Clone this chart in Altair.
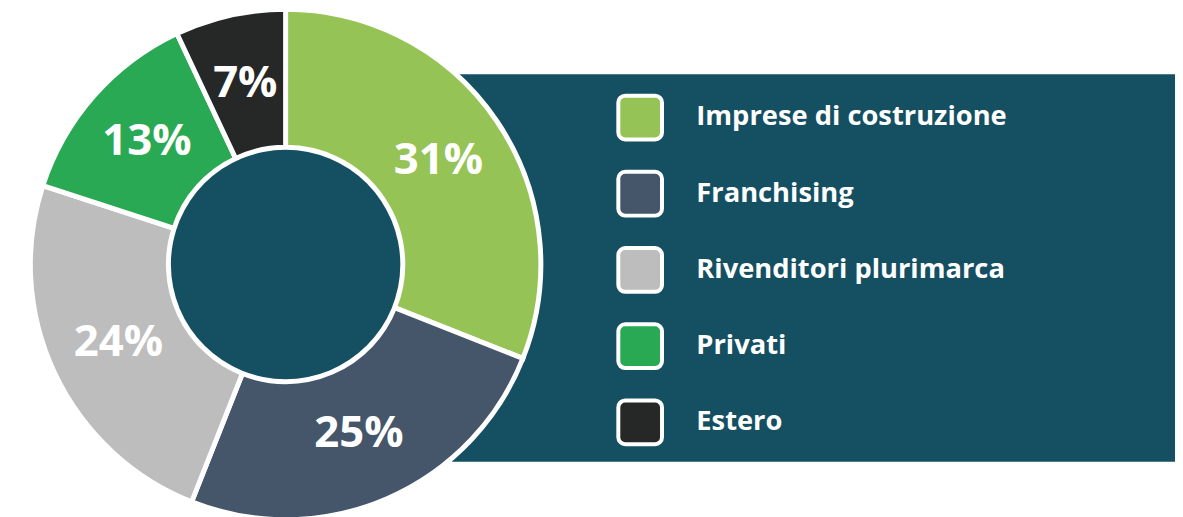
import math
import altair as alt
import pandas as pd

# ---- data ----
categories = ["Imprese di costruzione", "Franchising", "Rivenditori plurimarca", "Privati", "Estero"]
values = [31, 25, 24, 13, 7]
labels = ["31%", "25%", "24%", "13%", "7%"]
colors = ["#96c355", "#45566b", "#bcbdbc", "#29a953", "#262727"]
teal = "#154f62"

df = pd.DataFrame({
    "cat": categories,
    "value": values,
    "label": labels,
    "idx": list(range(len(categories))),
})
one = pd.DataFrame({"k": [0]})

W, H = 1175, 509
CX, CY = 279.5, 256.5
FONT = "Open Sans"

color_scale = alt.Scale(domain=categories, range=colors)

bg = alt.Chart(one).mark_rect(color=teal).encode(
    x=alt.value(447), x2=alt.value(1180), y=alt.value(65), y2=alt.value(455)
)

ring = alt.Chart(df).mark_arc(innerRadius=118, outerRadius=257, stroke="white", strokeWidth=5).encode(
    theta=alt.Theta("value:Q", stack=True),
    order=alt.Order("idx:Q"),
    color=alt.Color("cat:N", scale=color_scale, legend=None),
    x=alt.value(CX), y=alt.value(CY),
)

hole = alt.Chart(one).mark_arc(color=teal, innerRadius=0, outerRadius=115.5, theta=0, theta2=2 * math.pi).encode(
    x=alt.value(CX), y=alt.value(CY)
)

pct = alt.Chart(df).mark_text(
    radius=186, font=FONT, fontSize=44, fontWeight="bold", color="white", align="center", baseline="middle"
).encode(
    theta=alt.Theta("value:Q", stack=True),
    order=alt.Order("idx:Q"),
    text="label:N",
    x=alt.value(CX), y=alt.value(CY),
)

yenc = alt.Y(
    "cat:N", sort=categories, axis=None,
    scale=alt.Scale(type="band", domain=categories, range=[86.5, 437.5], paddingInner=0.4256, paddingOuter=0),
)

leg_rect = alt.Chart(df).mark_rect(cornerRadius=7, stroke="white", strokeWidth=4).encode(
    x=alt.value(614.5), x2=alt.value(658.5), y=yenc,
    color=alt.Color("cat:N", scale=color_scale, legend=None),
)

leg_text = alt.Chart(df).mark_text(
    align="left", baseline="middle", font=FONT, fontSize=27.5, fontWeight="bold", color="white"
).encode(x=alt.value(693), y=yenc, text="cat:N")

chart = alt.layer(bg, ring, hole, pct, leg_rect, leg_text).properties(
    width=W, height=H, padding=0, autosize=alt.AutoSizeParams(type="none"), background="white"
).configure_view(stroke=None)

chart.save("out.html", embed_options={"renderer": "svg", "actions": False})
